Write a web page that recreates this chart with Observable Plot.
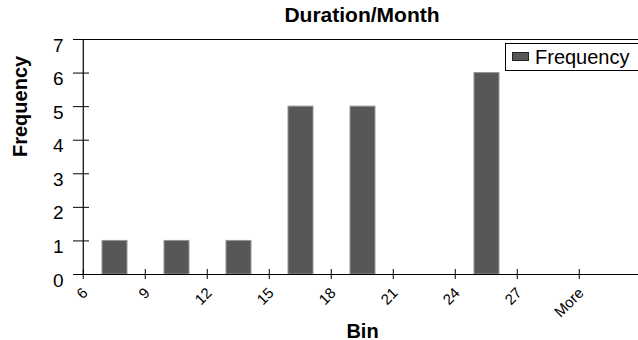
<!DOCTYPE html>
<html>
<head>
<meta charset="utf-8">
<script src="https://cdn.jsdelivr.net/npm/d3@7"></script>
<script src="https://cdn.jsdelivr.net/npm/@observablehq/plot@0.6"></script>
<style>
  html, body { margin: 0; padding: 0; background: #fff; overflow: hidden; }
  body { width: 638px; height: 340px; font-family: "Liberation Sans", Arial, sans-serif; }
  #wrap { position: relative; width: 638px; height: 340px; overflow: hidden; }
  #title { margin-left: 81px; width: 562px; height: 27px; padding-top: 3px; text-align: center;
           font-weight: bold; font-size: 21px; line-height: normal; color: #000; }
  #legend { position: absolute; left: 505px; top: 43px; width: 150px; height: 28px;
            border: 1px solid #000; background: #fff; box-sizing: border-box; }
  #legend .sw { position: absolute; left: 6px; top: 8px; width: 15px; height: 7px;
                background: #575757; border: 1px solid #222; }
  #legend .lb { position: absolute; left: 29px; top: 3px; font-size: 20px; line-height: 1; color: #000; white-space: nowrap; }
  svg { display: block; }
</style>
</head>
<body>
<div id="wrap">
  <div id="title">Duration/Month</div>
  <div id="chart"></div>
  <div id="legend"><div class="sw"></div><div class="lb">Frequency</div></div>
</div>
<script>
const bins = ["6", "9", "12", "15", "18", "21", "24", "27", "More"];
const frequency = [1, 1, 1, 5, 5, 0, 6, 0, 0];
const yTicks = [0, 1, 2, 3, 4, 5, 6, 7];
const xTitle = "Bin";
const yTitle = "Frequency";

const data = bins.map((b, i) => ({bin: b, freq: frequency[i]}));

const width = 638, height = 310;
const marginLeft = 81, marginRight = -5, marginTop = 9, marginBottom = 66;
const bw = (width - marginLeft - marginRight) / bins.length;

const chart = Plot.plot({
  width, height, marginLeft, marginRight, marginTop, marginBottom,
  style: {fontFamily: "'Liberation Sans', Arial, sans-serif", background: "#fff", color: "#000"},
  x: {type: "band", domain: bins, padding: 0, paddingInner: 0, paddingOuter: 0, label: null},
  y: {domain: [0, 7], label: null},
  marks: [
    Plot.barY(data.filter(d => d.freq > 0), {x: "bin", y: "freq", fill: "#575757", stroke: "#959595", strokeWidth: 1, insetLeft: 19, insetRight: 18}),
    Plot.ruleY([0, 7], {stroke: "#000", strokeWidth: 1.2}),
    Plot.ruleX([bins[0]], {dx: -bw / 2, y1: 0, y2: 7, stroke: "#000", strokeWidth: 1.2}),
    // y ticks crossing the axis
    Plot.axisY(yTicks, {tickSize: 8, tickFormat: () => "", stroke: "#000", label: null}),
    Plot.axisY(yTicks, {tickSize: -8, tickFormat: () => "", stroke: "#000", label: null}),
    Plot.axisY(yTicks, {tickSize: 0, tickPadding: 18, dy: 6, fontSize: 19, fill: "#000", label: null}),
    // x ticks crossing the axis, at bin starts
    Plot.axisX(bins, {tickSize: 5, tickFormat: () => "", dx: -bw / 2, stroke: "#000", label: null}),
    Plot.axisX(bins, {tickSize: -5, tickFormat: () => "", dx: -bw / 2, stroke: "#000", label: null}),
    Plot.axisX(bins, {tickSize: 0, tickPadding: 16, tickRotate: -45, dx: -bw / 2 + 2, fontSize: 15, fill: "#000", label: null}),
    Plot.text([yTitle], {frameAnchor: "left", rotate: -90, dx: -55, lineAnchor: "bottom", fontSize: 20, fontWeight: "bold", fill: "#000"}),
    Plot.text([xTitle], {frameAnchor: "bottom", dy: 63, lineAnchor: "bottom", fontSize: 20, fontWeight: "bold", fill: "#000"})
  ]
});
document.getElementById("chart").appendChild(chart);
</script>
</body>
</html>
